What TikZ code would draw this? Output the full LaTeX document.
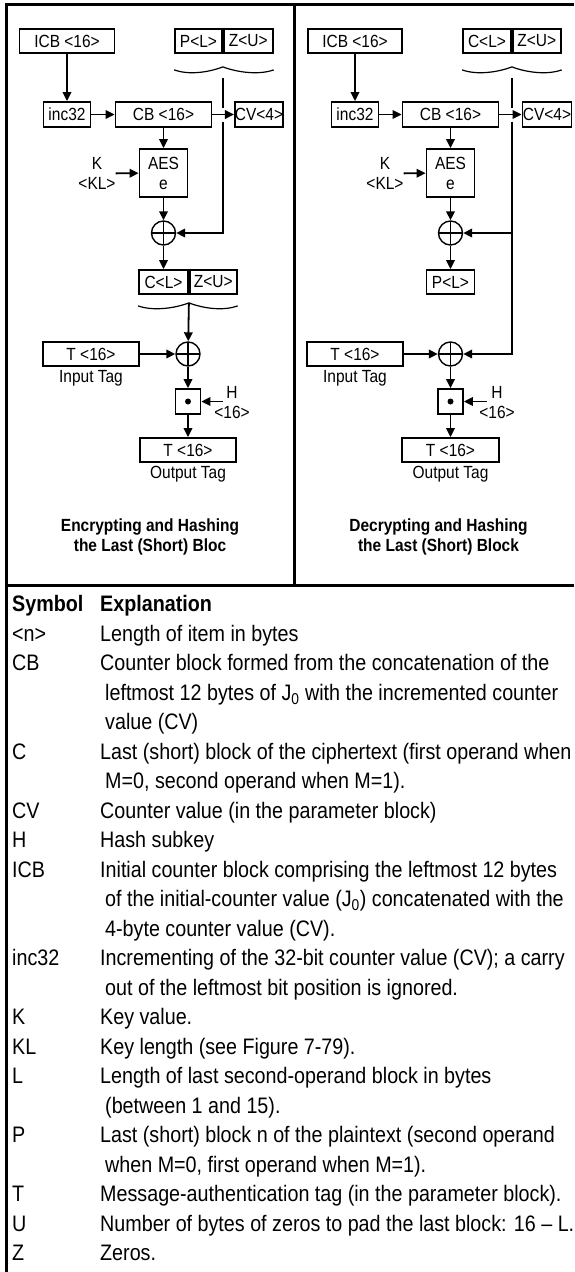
\documentclass[tikz,border=0pt]{standalone}
\usepackage{fontspec}
\setmainfont{Liberation Sans}[FakeStretch=0.88]
\usetikzlibrary{positioning,arrows.meta,calc}

\newcommand{\diag}{\fontsize{17.6}{20}\selectfont}
\newcommand{\legendfont}{\fontsize{22.4}{29.5}\selectfont}
% wavy group mark under two adjacent boxes, #3 = cusp coordinate, #4 = drop
\newcommand{\groupwave}[4]{%
  \coordinate (#3) at ($(#1.south east)+(0,#4)$);
  \draw[wave] ($(#1.south west)+(0,#4+3)$) .. controls +(14,5) and +(-16,6) .. (#3)
    .. controls +(16,6) and +(-14,5) .. ($(#2.south east)+(0,#4+3)$);}

\begin{document}
\begin{tikzpicture}[
    x=1pt, y=-1pt,
    box/.style={draw, line width=1.8pt, inner sep=0pt, minimum height=24pt, font=\diag},
    xorop/.style={draw, circle, line width=1.4pt, minimum size=24pt, inner sep=0pt,
      path picture={\draw[line width=1.4pt] (path picture bounding box.north) -- (path picture bounding box.south)
        (path picture bounding box.west) -- (path picture bounding box.east);}},
    mulop/.style={draw, line width=1.8pt, minimum size=25pt, inner sep=0pt,
      path picture={\fill (path picture bounding box.center) circle (3pt);}},
    lbl/.style={inner sep=0pt, align=center, font=\diag},
    arrow/.style={-{Triangle[length=9pt,width=8.5pt]}, line width=1.8pt},
    wave/.style={line width=1.2pt},
    frame/.style={line width=3pt}
]
\useasboundingbox (0,0) rectangle (574,1272);

% Frame
\draw[frame] (6,1272) -- (6,4) -- (574,4);
\draw[frame] (294,4) -- (294,585);
\draw[frame] (6,585) -- (574,585);

% Left: encrypting
\node[box, minimum width=95pt] (icb) at (67,41) {ICB <16>};
\node[box, minimum width=47pt] (pl) at (198.5,41) {P<L>};
\node[box, minimum width=49pt, anchor=west] (zu) at (pl.east) {Z<U>};
\groupwave{pl}{zu}{br1}{13}
\node[box, minimum width=47pt, minimum height=25pt] (inc) at (67,114.5) {inc32};
\node[box, minimum width=96pt, minimum height=25pt] (cb) at (163.5,114.5) {CB <16>};
\node[box, minimum width=48pt, minimum height=25pt] (cv) at (259,114.5) {CV<4>};
\node[box, minimum width=48pt, minimum height=48pt, align=center] (aes) at (163.5,173) {AES\\e};
\node[lbl] (key) at (97,173.5) {K\\<KL>};
\node[xorop] (x1) at (163.5,233) {};
\node[box, minimum width=49pt] (cl) at (163.5,282) {C<L>};
\node[box, minimum width=47pt, anchor=west] (zu2) at (cl.east) {Z<U>};
\groupwave{cl}{zu2}{br2}{8}
\node[xorop] (x2) at (188,354) {};
\node[box, minimum width=96pt] (tin) at (91,354) {T <16>};
\node[lbl, below=3pt of tin] (tinlbl) {Input Tag};
\node[mulop] (m1) at (188,401.5) {};
\coordinate (hin) at (223,401.5);
\node[lbl] (hlbl) at (232,402.5) {H\\<16>};
\node[box, minimum width=96pt] (tout) at (188,450) {T <16>};
\node[lbl, below=3pt of tout] (toutlbl) {Output Tag};
\node[lbl, font=\diag\bfseries] (cap1) at (150,537) {Encrypting and Hashing\\the Last (Short) Bloc};

\coordinate (v1) at ($(br1)+(0,11)$);
\coordinate (g1a) at ($(cb.east -| br1)+(0,-7)$);
\coordinate (g1b) at ($(cb.east -| br1)+(0,7)$);
\draw[arrow] (icb) -- (inc);
\draw[arrow] (inc) -- (cb);
\draw[arrow] (cb) -- (cv);
\draw[arrow] (cb) -- (aes);
\draw[arrow] (key) -- (aes);
\draw[arrow] (aes) -- (x1);
\draw[arrow] (x1) -- (cl);
\draw[line width=1.8pt] (v1) -- (g1a);
\draw[arrow] (g1b) |- (x1);
\draw[arrow] (br2) -- (x2);
\draw[arrow] (tin) -- (x2);
\draw[arrow] (x2) -- (m1);
\draw[arrow] (hin) -- (m1);
\draw[arrow] (m1) -- (tout);

% Right: decrypting
\node[box, minimum width=94pt] (icb2) at (355,41) {ICB <16>};
\node[box, minimum width=48pt] (cl2) at (487,41) {C<L>};
\node[box, minimum width=48pt, anchor=west] (zu3) at (cl2.east) {Z<U>};
\groupwave{cl2}{zu3}{br3}{13}
\node[box, minimum width=47pt, minimum height=25pt] (inc2) at (355,114.5) {inc32};
\node[box, minimum width=96pt, minimum height=25pt] (cb2) at (450.5,114.5) {CB <16>};
\node[box, minimum width=49pt, minimum height=25pt] (cv2) at (547,114.5) {CV<4>};
\node[box, minimum width=48pt, minimum height=48pt, align=center] (aes2) at (450.5,173) {AES\\e};
\node[lbl] (key2) at (385,173.5) {K\\<KL>};
\node[xorop] (x3) at (450.5,233) {};
\node[box, minimum width=48pt] (pl2) at (450.5,282) {P<L>};
\node[xorop] (x4) at (450.5,354) {};
\node[box, minimum width=96pt] (tin2) at (355,354) {T <16>};
\node[lbl, below=3pt of tin2] (tinlbl2) {Input Tag};
\node[mulop] (m2) at (450.5,401.5) {};
\coordinate (hin2) at (487,401.5);
\node[lbl] (hlbl2) at (497,402.5) {H\\<16>};
\node[box, minimum width=97pt] (tout2) at (450.5,450) {T <16>};
\node[lbl, below=3pt of tout2] (toutlbl2) {Output Tag};
\node[lbl, font=\diag\bfseries] (cap2) at (438.5,537) {Decrypting and Hashing\\the Last (Short) Block};

\coordinate (v3) at ($(br3)+(0,11)$);
\coordinate (g3a) at ($(cb2.east -| br3)+(0,-7)$);
\coordinate (g3b) at ($(cb2.east -| br3)+(0,7)$);
\draw[arrow] (icb2) -- (inc2);
\draw[arrow] (inc2) -- (cb2);
\draw[arrow] (cb2) -- (cv2);
\draw[arrow] (cb2) -- (aes2);
\draw[arrow] (key2) -- (aes2);
\draw[arrow] (aes2) -- (x3);
\draw[arrow] (x3) -- (pl2);
\draw[line width=1.8pt] (v3) -- (g3a);
\draw[arrow] (g3b) |- (x4);
\draw[arrow] (x3 -| g3b) -- (x3);
\draw[arrow] (tin2) -- (x4);
\draw[arrow] (x4) -- (m2);
\draw[arrow] (hin2) -- (m2);
\draw[arrow] (m2) -- (tout2);

% Legend
\node[anchor=north west, inner sep=0pt, font=\legendfont] (legend) at (12,591) {%
\begin{tabular}{@{}p{88pt}@{}l@{}}
\textbf{Symbol} & \textbf{Explanation}\\
<n> & Length of item in bytes\\
CB & Counter block formed from the concatenation of the\\
 & \hspace*{5pt}leftmost 12 bytes of J\textsubscript{0} with the incremented counter\\
 & \hspace*{5pt}value (CV)\\
C & Last (short) block of the ciphertext (first operand when\\
 & \hspace*{5pt}M=0, second operand when M=1).\\
CV & Counter value (in the parameter block)\\
H & Hash subkey\\
ICB & Initial counter block comprising the leftmost 12 bytes\\
 & \hspace*{5pt}of the initial-counter value (J\textsubscript{0}) concatenated with the\\
 & \hspace*{5pt}4-byte counter value (CV).\\
inc32 & Incrementing of the 32-bit counter value (CV); a carry\\
 & \hspace*{5pt}out of the leftmost bit position is ignored.\\
K & Key value.\\
KL & Key length (see Figure 7-79).\\
L & Length of last second-operand block in bytes\\
 & \hspace*{5pt}(between 1 and 15).\\
P & Last (short) block n of the plaintext (second operand\\
 & \hspace*{5pt}when M=0, first operand when M=1).\\
T & Message-authentication tag (in the parameter block).\\
U & Number of bytes of zeros to pad the last block: 16 – L.\\
Z & Zeros.
\end{tabular}};
\end{tikzpicture}
\end{document}
